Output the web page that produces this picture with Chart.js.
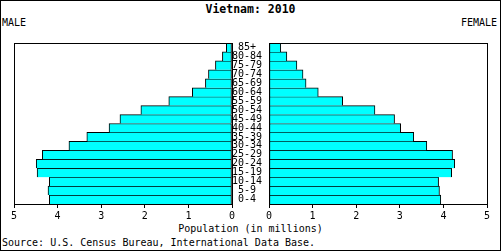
<!DOCTYPE html>
<html>
<head>
<meta charset="utf-8">
<script src="https://cdn.jsdelivr.net/npm/chart.js@4"></script>
<style>
  html, body { margin: 0; padding: 0; background: #fff; }
  #wrap { position: relative; width: 501px; height: 251px; box-sizing: border-box; border: 1px solid #000; background: #fff; overflow: hidden; }
  .t { position: absolute; font-family: "DejaVu Sans Mono", monospace; font-size: 10px; line-height: 10px; color: #000; white-space: nowrap; }
  canvas { position: absolute; top: 0; }
</style>
</head>
<body>
<div id="wrap">
  <div class="t" style="left:0;width:499px;top:3px;text-align:center;font-weight:bold;font-size:11.5px;line-height:11px;">Vietnam: 2010</div>
  <div class="t" style="left:1px;top:17px;">MALE</div>
  <div class="t" style="right:3px;top:17px;">FEMALE</div>
  <div class="t" style="left:0;width:499px;top:222.5px;text-align:center;">Population (in millions)</div>
  <div class="t" style="left:1px;top:237px;">Source: U.S. Census Bureau, International Data Base.</div>
  <div id="lbox" style="position:absolute;left:-1px;top:-1px;width:268px;height:230px;"><canvas id="left"></canvas></div>
  <div id="rbox" style="position:absolute;left:259px;top:-1px;width:241px;height:230px;"><canvas id="right"></canvas></div>
</div>
<script>
const ageGroups = ["0-4","5-9","10-14","15-19","20-24","25-29","30-34","35-39","40-44","45-49","50-54","55-59","60-64","65-69","70-74","75-79","80-84","85+"];
const male   = [4.19, 4.22, 4.19, 4.47, 4.49, 4.35, 3.74, 3.33, 2.82, 2.57, 2.09, 1.45, 0.91, 0.61, 0.54, 0.38, 0.22, 0.13];
const female = [3.94, 3.91, 3.89, 4.19, 4.26, 4.21, 3.62, 3.32, 3.02, 2.88, 2.43, 1.69, 1.13, 0.85, 0.78, 0.64, 0.41, 0.27];
const xTicks = [0, 1, 2, 3, 4, 5];

const FONT = { family: "DejaVu Sans Mono", size: 10 };
Chart.defaults.color = '#000';
Chart.defaults.animation = false;

const boxPlugin = {
  id: 'box',
  afterDraw(chart) {
    const a = chart.chartArea, c = chart.ctx;
    c.save();
    c.strokeStyle = '#000';
    c.lineWidth = 1;
    c.strokeRect(Math.round(a.left) + 0.5, Math.round(a.top) + 0.5, Math.round(a.right - a.left), Math.round(a.bottom - a.top));
    c.restore();
  }
};

function makeChart(id, data, isLeft) {
  return new Chart(document.getElementById(id), {
    type: 'bar',
    data: {
      labels: ageGroups,
      datasets: [{
        data: data,
        backgroundColor: '#00FFFF',
        borderColor: '#000',
        borderWidth: { top: 1, bottom: 0, left: 1, right: 1 },
        borderSkipped: false,
        categoryPercentage: 1.0,
        barPercentage: 1.0
      }]
    },
    plugins: [boxPlugin],
    options: {
      indexAxis: 'y',
      responsive: true,
      maintainAspectRatio: false,
      animation: false,
      layout: { padding: isLeft ? { left: 14, top: 43, right: 0, bottom: 0 } : { left: 9, top: 43, right: 14, bottom: 0 } },
      plugins: { legend: { display: false }, tooltip: { enabled: false }, title: { display: false } },
      scales: {
        x: {
          type: 'linear',
          reverse: isLeft,
          min: 0, max: 5,
          afterBuildTicks(s) { s.ticks = xTicks.map(v => ({ value: v })); },
          afterFit(s) { s.height = 26; },
          border: { display: true, color: '#000', width: 1 },
          grid: { drawOnChartArea: false, drawTicks: true, tickLength: 4, color: '#000' },
          ticks: { font: FONT, color: '#000', padding: 2, maxRotation: 0, autoSkip: false }
        },
        y: {
          reverse: true,
          position: 'right',
          display: isLeft,
          afterFit(s) { s.width = isLeft ? 36 : 0; },
          border: { display: false },
          grid: { display: false, drawTicks: false },
          ticks: { font: FONT, color: '#000', padding: 0, crossAlign: 'center', autoSkip: false }
        }
      }
    }
  });
}

makeChart('left', male, true);
makeChart('right', female, false);
</script>
</body>
</html>
